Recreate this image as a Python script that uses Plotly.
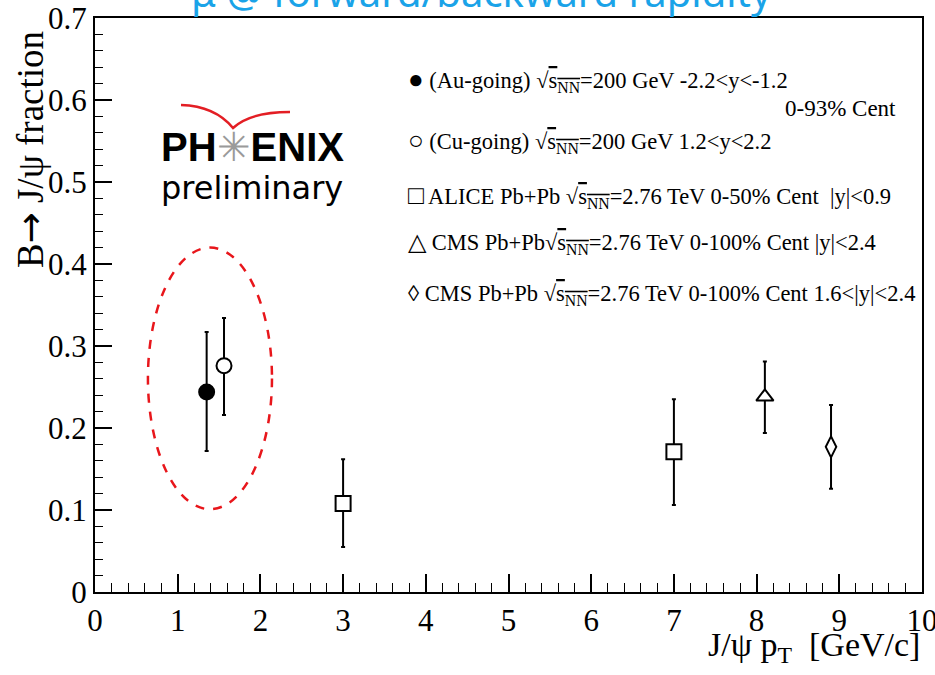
import plotly.graph_objects as go

# ---- data ----
series_names = ["Au-going", "Cu-going", "ALICE", "CMS", "CMS fwd"]
pt_au = [1.35]; frac_au = [0.244]; up_au = [0.073]; dn_au = [0.072]
pt_cu = [1.56]; frac_cu = [0.276]; up_cu = [0.058]; dn_cu = [0.060]
pt_alice = [3.0, 7.0]; frac_alice = [0.108, 0.171]; up_alice = [0.054, 0.064]; dn_alice = [0.053, 0.065]
pt_cms = [8.1]; frac_cms = [0.238]; up_cms = [0.043]; dn_cms = [0.044]
pt_cmsf = [8.9]; frac_cmsf = [0.177]; up_cmsf = [0.051]; dn_cmsf = [0.051]

x_ticks = list(range(0, 11))
y_ticks = [0, 0.1, 0.2, 0.3, 0.4, 0.5, 0.6, 0.7]
y_ticklabels = ["0", "0.1", "0.2", "0.3", "0.4", "0.5", "0.6", "0.7"]

SQ = "√<span style='text-decoration:overline'>s<sub>NN</sub></span>"
legend_lines = [
    "<span style='font-size:26px'>●</span> (Au-going) " + SQ + "=200 GeV -2.2&lt;y&lt;-1.2",
    "<span style='font-size:26px'>○</span> (Cu-going) " + SQ + "=200 GeV 1.2&lt;y&lt;2.2",
    "<span style='font-size:26px'>□</span> ALICE Pb+Pb " + SQ + "=2.76 TeV 0-50% Cent  |y|&lt;0.9",
    "<span style='font-size:24px'>△</span> CMS Pb+Pb" + SQ + "=2.76 TeV 0-100% Cent |y|&lt;2.4",
    "◊ CMS Pb+Pb " + SQ + "=2.76 TeV 0-100% Cent 1.6&lt;|y|&lt;2.4",
]
legend_y_px = [80, 141, 196, 243, 295]

SERIF = "Liberation Serif, Times New Roman, serif"

fig = go.Figure()

def add(xs, ys, up, dn, symbol, name, fill="white"):
    fig.add_trace(go.Scatter(
        x=xs, y=ys, mode="markers", name=name,
        marker=dict(symbol=symbol, size=15, color=fill,
                    line=dict(color="black", width=2)),
        error_y=dict(type="data", symmetric=False, array=up, arrayminus=dn,
                     color="black", thickness=2, width=2),
        showlegend=False,
    ))

add(pt_au, frac_au, up_au, dn_au, "circle", series_names[0], fill="black")
add(pt_cu, frac_cu, up_cu, dn_cu, "circle", series_names[1])
add(pt_alice, frac_alice, up_alice, dn_alice, "square", series_names[2])
add(pt_cms, frac_cms, up_cms, dn_cms, "triangle-up", series_names[3])
add(pt_cmsf, frac_cmsf, up_cmsf, dn_cmsf, "diamond-tall", series_names[4])

L, R, T, B = 95, 13, 18, 83
W, H = 935, 675
pw, ph = W - L - R, H - T - B

def px(x):
    return (x - L) / pw

def py(y):
    return (H - B - y) / ph

annotations = []
for txt, ypx in zip(legend_lines, legend_y_px):
    annotations.append(dict(xref="paper", yref="paper", x=px(406), y=py(ypx),
                            xanchor="left", yanchor="middle", showarrow=False,
                            text=txt, font=dict(family=SERIF, size=22.5, color="black")))
annotations.append(dict(xref="paper", yref="paper", x=px(898), y=py(108),
                        xanchor="right", yanchor="middle", showarrow=False,
                        text="0-93% Cent", font=dict(family=SERIF, size=23, color="black")))
# title (cut at the top)
annotations.append(dict(xref="paper", yref="paper", x=px(481), y=py(-8),
                        xanchor="center", yanchor="middle", showarrow=False,
                        text="μ @ forward/backward rapidity",
                        font=dict(family="Noto Sans", size=40, color="#1aa3e8")))
# logo
annotations.append(dict(xref="paper", yref="paper", x=px(252), y=py(147),
                        xanchor="center", yanchor="middle", showarrow=False,
                        text="<b>PH</b><span style='color:#9a9a9a'>✳</span><b>ENIX</b>",
                        font=dict(family="Liberation Sans", size=40, color="black")))
annotations.append(dict(xref="paper", yref="paper", x=px(252), y=py(188),
                        xanchor="center", yanchor="middle", showarrow=False,
                        text="preliminary",
                        font=dict(family="DejaVu Sans", size=32, color="black")))
# axis titles
annotations.append(dict(xref="paper", yref="paper", x=px(922), y=py(647),
                        xanchor="right", yanchor="middle", showarrow=False,
                        text="J/ψ p<sub>T</sub>  [GeV/c]",
                        font=dict(family=SERIF, size=34, color="black")))
annotations.append(dict(xref="paper", yref="paper", x=px(30), y=py(150),
                        xanchor="center", yanchor="middle", showarrow=False, textangle=-90,
                        text="B<span style='font-family:DejaVu Sans'>→</span> J/ψ fraction",
                        font=dict(family=SERIF, size=37, color="black")))

shapes = [
    dict(type="circle", xref="x", yref="y", x0=0.64, x1=2.14, y0=0.101, y1=0.42,
         line=dict(color="#e8161b", width=2.5, dash="dash")),
    dict(type="path", xref="paper", yref="paper",
         path=f"M {px(181)} {py(105)} Q {px(215)} {py(106)} {px(233)} {py(128)} "
              f"Q {px(250)} {py(112)} {px(290)} {py(112)}",
         line=dict(color="#e31e24", width=2.5)),
]

axis_common = dict(ticks="inside", tickwidth=1.5, tickcolor="black",
                   showline=True, linecolor="black", linewidth=2, mirror=True,
                   showgrid=False, zeroline=False, automargin=False,
                   ticklabeloverflow="allow",
                   tickfont=dict(family=SERIF, size=31, color="black"))

fig.update_layout(
    width=W, height=H,
    margin=dict(l=L, r=R, t=T, b=B, autoexpand=False),
    paper_bgcolor="white", plot_bgcolor="white",
    annotations=annotations, shapes=shapes,
    xaxis=dict(range=[0, 10], tickvals=x_ticks, ticklen=18,
               minor=dict(dtick=0.2, ticks="inside", ticklen=9, tickwidth=1.2, tickcolor="black"),
               **axis_common),
    yaxis=dict(range=[0, 0.7], tickvals=y_ticks, ticktext=y_ticklabels, ticklen=17,
               minor=dict(dtick=0.02, ticks="inside", ticklen=8, tickwidth=1.2, tickcolor="black"),
               **axis_common),
)

fig.write_html("out.html", config={"displayModeBar": False},
               post_script="document.body.style.margin='0';document.body.style.overflow='hidden';")
